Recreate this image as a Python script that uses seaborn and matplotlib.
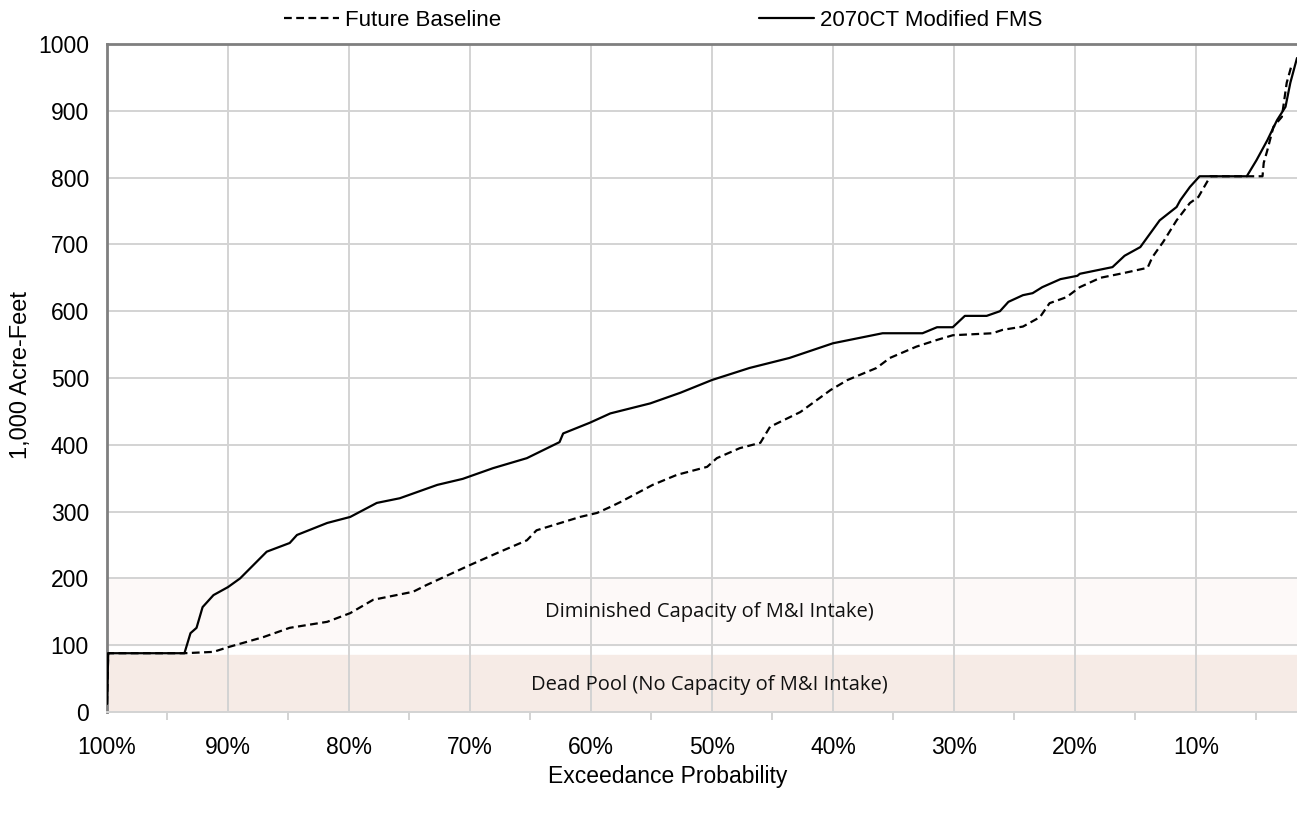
import numpy as np
import pandas as pd
import matplotlib.pyplot as plt
import seaborn as sns

# Exceedance probability (%) and storage (1,000 acre-feet)

fms_prob = [100.0, 99.9, 93.6, 93.1, 92.6, 92.1, 91.2, 90.0, 89.0, 87.9, 86.8, 84.9, 84.3,
            81.8, 79.9, 77.7, 75.8, 72.7, 70.6, 68.1, 65.3, 62.6, 62.3, 60.1, 58.4, 55.1,
            52.6, 50.0, 46.9, 43.6, 40.0, 35.9, 32.6, 31.4, 30.1, 29.1, 27.3, 26.2, 25.5,
            24.3, 23.5, 22.7, 21.2, 19.8, 19.6, 16.9, 15.9, 14.6, 14.0, 13.0, 11.6, 11.3,
            10.5, 9.7, 5.8, 5.0, 4.1, 3.3, 2.6, 2.2, 1.65]
fms_value = [12, 88, 88, 118, 126, 157, 175, 187, 200, 220, 240, 253, 265,
             283, 292, 313, 320, 340, 349, 365, 380, 404, 417, 433, 447, 462,
             478, 497, 515, 530, 552, 567, 567, 576, 576, 593, 593, 600, 614,
             624, 627, 636, 648, 653, 656, 666, 683, 696, 711, 736, 756, 766,
             786, 802, 802, 826, 856, 886, 906, 942, 979]

base_prob = [100.0, 99.9, 93.6, 91.2, 90.0, 87.1, 84.9, 81.8, 79.9, 78.0, 74.7, 73.6, 70.0,
             67.5, 65.3, 64.5, 60.9, 59.5, 58.4, 57.6, 54.9, 52.9, 50.4, 49.6, 47.7, 46.0,
             45.2, 42.7, 40.2, 38.8, 36.4, 35.3, 33.1, 31.4, 30.1, 26.8, 26.0, 24.3, 22.9,
             22.1, 20.7, 19.6, 17.9, 16.0, 14.0, 13.6, 12.7, 11.6, 10.5, 9.8, 9.1, 8.8,
             4.5, 4.4, 4.1, 3.6, 2.9, 2.5, 2.1]
base_value = [12, 88, 88, 90, 97, 112, 126, 135, 148, 168, 180, 190, 220,
              240, 257, 272, 292, 298, 307, 314, 340, 355, 367, 380, 395, 403,
              427, 449, 482, 497, 515, 530, 547, 557, 564, 567, 572, 577, 591,
              612, 621, 636, 650, 657, 665, 681, 704, 736, 762, 771, 793, 802,
              802, 822, 841, 876, 891, 942, 968]

series_names = ["Future Baseline", "2070CT Modified FMS"]
x_ticks = [100, 90, 80, 70, 60, 50, 40, 30, 20, 10]
x_labels = ["100%", "90%", "80%", "70%", "60%", "50%", "40%", "30%", "20%", "10%"]
y_ticks = [0, 100, 200, 300, 400, 500, 600, 700, 800, 900, 1000]

df = pd.concat([
    pd.DataFrame({"prob": base_prob, "value": base_value, "series": series_names[0]}),
    pd.DataFrame({"prob": fms_prob, "value": fms_value, "series": series_names[1]}),
])

sns.set_style("white")
plt.rcParams["font.family"] = ["Liberation Sans", "DejaVu Sans"]
plt.rcParams["text.color"] = "black"

fig = plt.figure(figsize=(12.97, 8.19), dpi=100)
ax = fig.add_axes([107 / 1297, 1 - 712 / 819, 1190 / 1297, 668 / 819])

# Shaded zones
ax.axhspan(100, 200, color="#fdf9f8", zorder=0)
ax.axhspan(0, 85, color="#f6ebe6", zorder=0)

sns.lineplot(data=df, x="prob", y="value", hue="series", style="series",
             hue_order=series_names, style_order=series_names,
             palette=["black", "black"],
             dashes={series_names[0]: (3.5, 2), series_names[1]: ""},
             estimator=None, sort=False, linewidth=1.6, ax=ax, legend=True, zorder=3)

ax.set_xlim(100, 1.65)
ax.set_ylim(0, 1000)
ax.set_xticks(x_ticks)
ax.set_xticklabels(x_labels)
ax.set_xticks([95, 85, 75, 65, 55, 45, 35, 25, 15, 5], minor=True)
ax.set_yticks(y_ticks)
ax.tick_params(axis="both", which="major", labelsize=16.5, length=0, colors="black")
ax.tick_params(axis="x", which="major", pad=17)
ax.tick_params(axis="y", which="major", pad=13)
ax.tick_params(axis="x", which="minor", length=6, width=1.2, color="#cccccc", direction="out", bottom=True)

ax.grid(True, which="major", color="#d3d3d3", linewidth=1.4, zorder=1)
ax.set_axisbelow(True)

ax.spines["right"].set_visible(False)
ax.spines["top"].set_color("#7f7f7f")
ax.spines["top"].set_linewidth(2)
ax.spines["left"].set_color("#7f7f7f")
ax.spines["left"].set_linewidth(2)
ax.spines["bottom"].set_color("#d3d3d3")
ax.spines["bottom"].set_linewidth(1.4)

ax.set_xlabel("")
ax.set_ylabel("")
fig.text(668 / 1297, 1 - 776 / 819, "Exceedance Probability", ha="center", va="center",
         fontsize=16.5, color="black")
fig.text(21 / 1297, 1 - 375 / 819, "1,000 Acre-Feet", ha="center", va="center",
         fontsize=17, rotation=90, color="black")

# Zone labels
band_font = ["Open Sans", "DejaVu Sans"]
ax.text(50.2, 150, "Diminished Capacity of M&I Intake)", ha="center", va="center",
        fontsize=14.5, family=band_font, color="#111111", zorder=4)
ax.text(50.2, 40, "Dead Pool (No Capacity of M&I Intake)", ha="center", va="center",
        fontsize=14.5, family=band_font, color="#111111", zorder=4)

handles, labels = ax.get_legend_handles_labels()
ax.get_legend().remove()
fig.legend(handles, labels, loc="center", bbox_to_anchor=(0.511, 0.975), ncol=2,
           frameon=False, fontsize=16, columnspacing=11.6, handlelength=2.5,
           handletextpad=0.25, labelcolor="black")

fig.savefig("out.png", dpi=100)
